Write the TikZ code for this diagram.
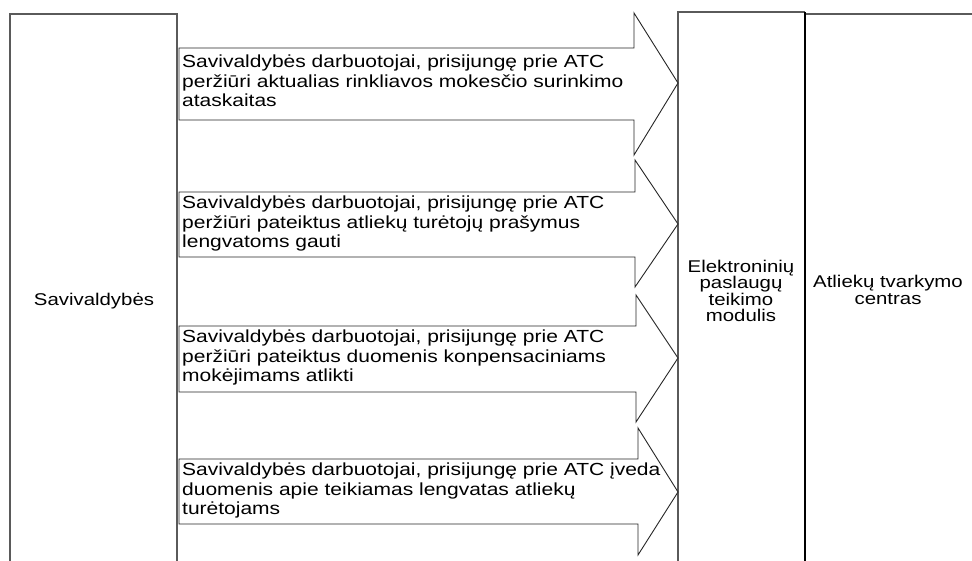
\documentclass[tikz,border=0pt]{standalone}
\usepackage{fontspec}
\setmainfont[FakeStretch=1.2]{Liberation Sans}
\usepackage{xcolor}
\usepackage{tikz}
\usetikzlibrary{positioning, calc}
\definecolor{laneline}{HTML}{5A5A5A}

\tikzset{
  lane/.style={draw=laneline, line width=1.1pt},
  flowarrow/.style={draw=black!85, line width=0.9pt, fill=white},
  flowtext/.style={anchor=north west, inner sep=0pt, align=left,
                   font=\fontsize{17.5}{19.5}\selectfont},
  lanetext/.style={align=center, inner sep=0pt, font=\fontsize{17}{16.5}\selectfont},
}

\begin{document}
\begin{tikzpicture}[x=1pt, y=-1pt]
  \useasboundingbox (0,0) rectangle (972,561);

  % lanes, open at the bottom
  \draw[lane] (10,561) -- (10,14) -- (177,14) -- (177,561);
  \draw[lane] (678,561) -- (678,12) -- (805,12);
  \draw[lane] (805,14) -- (972,14);
  \draw[line width=1.7pt] (805,12) -- (805,561);

  \node[lanetext] (savival) at (94,301) {Savivaldybės};
  \node[lanetext] (modulis) at (741,291) {Elektroninių\\paslaugų\\teikimo\\modulis};
  \node[lanetext] (atc) at (888,290) {Atliekų tvarkymo\\centras};

  % block arrows: neck / head top / shaft top / tip / shaft bottom / head bottom
  \foreach \n/\neck/\ht/\st/\tip/\sb/\hb in {1/634/13/48/83/120/155,
      2/635/160/192/224/257/287, 3/636/295/326/358/392/422, 4/638/428/459/492/524/555}
    \draw[flowarrow] (179,\st) -- (\neck,\st) -- (\neck,\ht) -- (678,\tip)
      -- (\neck,\hb) -- (\neck,\sb) -- (179,\sb) -- cycle;

  \node[flowtext] (perziura1) at (182,55) {Savivaldybės darbuotojai, prisijungę prie ATC\\
    peržiūri aktualias rinkliavos mokesčio surinkimo\\ataskaitas};
  \node[flowtext] (perziura2) at (182,196) {Savivaldybės darbuotojai, prisijungę prie ATC\\
    peržiūri pateiktus atliekų turėtojų prašymus\\lengvatoms gauti};
  \node[flowtext] (perziura3) at (182,330) {Savivaldybės darbuotojai, prisijungę prie ATC\\
    peržiūri pateiktus duomenis konpensaciniams\\mokėjimams atlikti};
  \node[flowtext] (ivedimas) at (182,463) {Savivaldybės darbuotojai, prisijungę prie ATC įveda\\
    duomenis apie teikiamas lengvatas atliekų\\turėtojams};
\end{tikzpicture}
\end{document}
